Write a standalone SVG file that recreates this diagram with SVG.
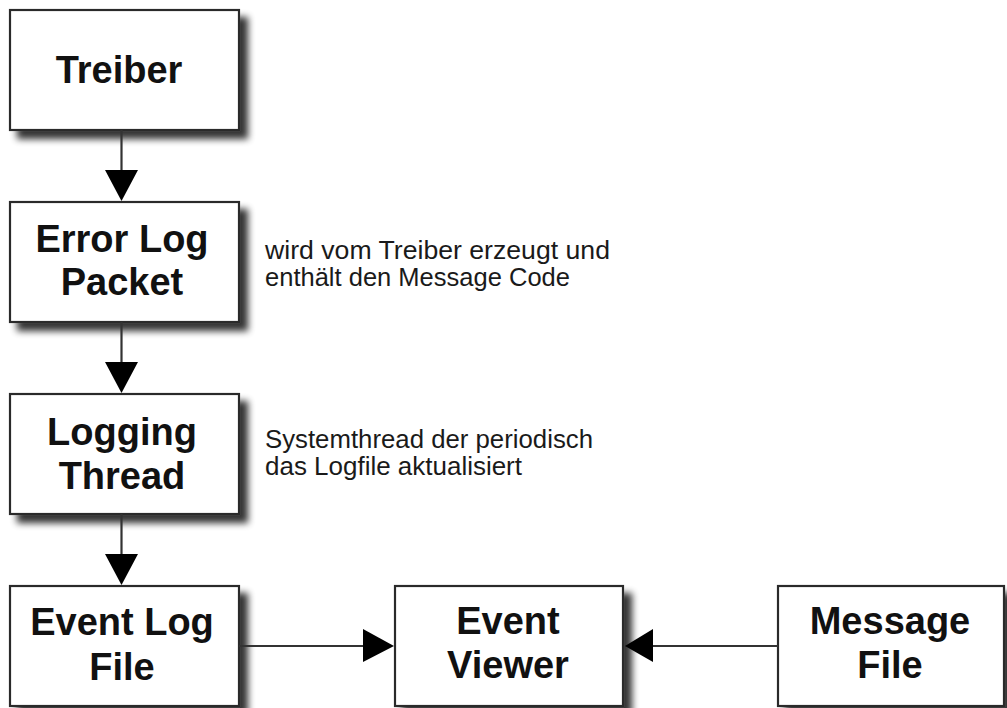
<svg xmlns="http://www.w3.org/2000/svg" width="1007" height="708" viewBox="0 0 1007 708">
  <defs>
    <filter id="shadow" x="-10%" y="-10%" width="130%" height="140%">
      <feGaussianBlur in="SourceAlpha" stdDeviation="3.5"/>
      <feOffset dx="8" dy="8" result="b"/>
      <feComponentTransfer><feFuncA type="linear" slope="0.8"/></feComponentTransfer>
      <feMerge><feMergeNode/><feMergeNode in="SourceGraphic"/></feMerge>
    </filter>
  </defs>
  <style>
    .box { fill: #ffffff; stroke: #2b2b2b; stroke-width: 2.2; filter: url(#shadow); }
    .label { font-family: "Liberation Sans", Arial, sans-serif; font-weight: bold; font-size: 38px; fill: #111111; text-anchor: middle; }
    .note { font-family: "Liberation Sans", Arial, sans-serif; font-size: 25px; fill: #1a1a1a; }
    .wire { stroke: #333333; stroke-width: 2.2; fill: none; }
    .head { fill: #000000; }
  </style>
  <rect width="1007" height="708" fill="#ffffff"/>

  <g id="treiber">
    <rect class="box" x="10" y="10" width="229" height="120"/>
    <text class="label" x="119" y="83">Treiber</text>
  </g>

  <g id="error-log-packet">
    <rect class="box" x="10" y="202" width="229" height="120"/>
    <text class="label" x="122" y="252">Error Log</text>
    <text class="label" x="122" y="295">Packet</text>
  </g>

  <g id="logging-thread">
    <rect class="box" x="10" y="394" width="229" height="120"/>
    <text class="label" x="122" y="445">Logging</text>
    <text class="label" x="122" y="489">Thread</text>
  </g>

  <g id="event-log-file">
    <rect class="box" x="10" y="586" width="229" height="120"/>
    <text class="label" x="122" y="635">Event Log</text>
    <text class="label" x="122" y="680">File</text>
  </g>

  <g id="event-viewer">
    <rect class="box" x="395" y="586" width="228" height="120"/>
    <text class="label" x="508" y="634">Event</text>
    <text class="label" x="508" y="678">Viewer</text>
  </g>

  <g id="message-file">
    <rect class="box" x="778" y="586" width="226" height="120"/>
    <text class="label" x="890" y="634">Message</text>
    <text class="label" x="890" y="678">File</text>
  </g>

  <g id="notes">
    <text class="note" x="265" y="259" textLength="345" lengthAdjust="spacingAndGlyphs">wird vom Treiber erzeugt und</text>
    <text class="note" x="265" y="286" textLength="305" lengthAdjust="spacingAndGlyphs">enthält den Message Code</text>
    <text class="note" x="265" y="448" textLength="328" lengthAdjust="spacingAndGlyphs">Systemthread der periodisch</text>
    <text class="note" x="265" y="475" textLength="257" lengthAdjust="spacingAndGlyphs">das Logfile aktualisiert</text>
  </g>

  <g id="connectors">
    <line class="wire" x1="121.5" y1="130" x2="121.5" y2="172"/>
    <polygon class="head" points="105,170 138,170 121.5,201"/>
    <line class="wire" x1="121.5" y1="322" x2="121.5" y2="364"/>
    <polygon class="head" points="105,362 138,362 121.5,393"/>
    <line class="wire" x1="121.5" y1="514" x2="121.5" y2="556"/>
    <polygon class="head" points="105,554 138,554 121.5,585"/>
    <line class="wire" x1="239" y1="646" x2="366" y2="646"/>
    <polygon class="head" points="363,629 363,662 394,646"/>
    <line class="wire" x1="778" y1="646" x2="650" y2="646"/>
    <polygon class="head" points="653,629 653,662 625,646"/>
  </g>
</svg>
